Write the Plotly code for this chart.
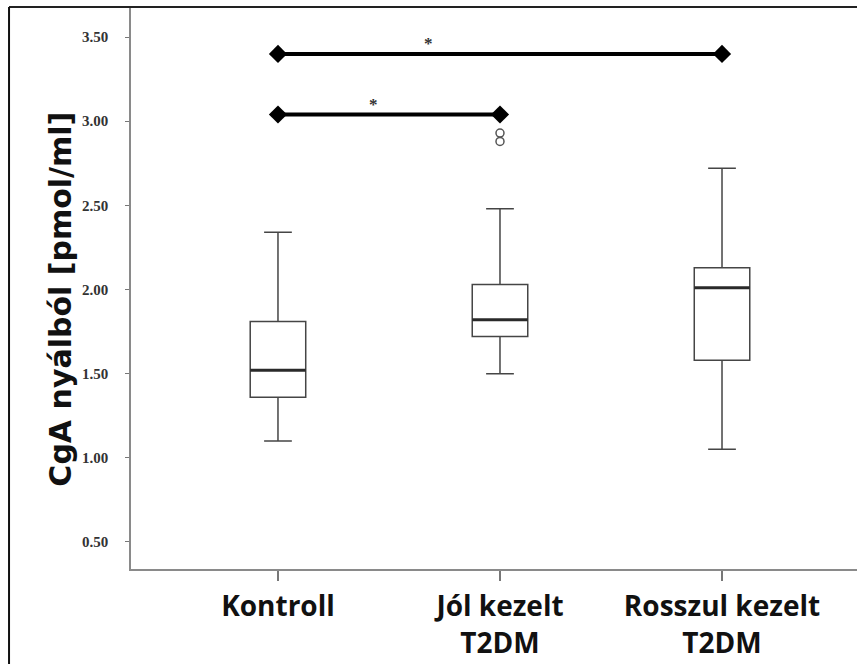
import plotly.graph_objects as go

# Salivary chromogranin A (CgA) per group: box-plot summary statistics
groups = ["Kontroll", "Jól kezelt<br>T2DM", "Rosszul kezelt<br>T2DM"]
lower_whisker = [1.10, 1.50, 1.05]
q1 = [1.36, 1.72, 1.58]
median = [1.52, 1.82, 2.01]
q3 = [1.81, 2.03, 2.13]
upper_whisker = [2.34, 2.48, 2.72]

# Outlying values (group index, value)
outlier_group = [1, 1]
outlier_values = [2.93, 2.88]

# Significant pairwise comparisons
sig_from = [0, 0]
sig_to = [2, 1]
sig_level = [3.40, 3.04]
sig_label = ["*", "*"]

y_ticks = [0.50, 1.00, 1.50, 2.00, 2.50, 3.00, 3.50]

positions = list(range(len(groups)))
BOX_W = 0.25
BOX_LINE = "#454545"

fig = go.Figure()

fig.add_trace(go.Box(
    x=positions,
    q1=q1, median=median, q3=q3,
    lowerfence=lower_whisker, upperfence=upper_whisker,
    width=BOX_W, whiskerwidth=0.5,
    fillcolor="white",
    line=dict(color=BOX_LINE, width=1.5),
    boxpoints=False, showlegend=False, hoverinfo="skip",
))

# heavier median lines
mx, my = [], []
for p, m in zip(positions, median):
    mx += [p - BOX_W / 2, p + BOX_W / 2, None]
    my += [m, m, None]
fig.add_trace(go.Scatter(x=mx, y=my, mode="lines",
                         line=dict(color="#2a2a2a", width=3),
                         showlegend=False, hoverinfo="skip"))

# outliers
fig.add_trace(go.Scatter(
    x=outlier_group, y=outlier_values, mode="markers",
    marker=dict(symbol="circle-open", size=8, color="#555",
                line=dict(width=1.5, color="#555")),
    showlegend=False, hoverinfo="skip"))

# significance brackets
star_frac = [0.34, 0.43]
for a, b, lvl, lab, f in zip(sig_from, sig_to, sig_level, sig_label, star_frac):
    fig.add_trace(go.Scatter(
        x=[a, b], y=[lvl, lvl], mode="lines+markers",
        line=dict(color="black", width=4),
        marker=dict(symbol="diamond", size=14, color="black"),
        showlegend=False, hoverinfo="skip"))
    fig.add_annotation(x=a + f * (b - a), y=lvl, yshift=10, text=lab,
                       showarrow=False,
                       font=dict(family="Liberation Serif", size=17,
                                 color="#333", weight="bold"))

# y-axis title
fig.add_annotation(xref="paper", yref="paper", x=-0.124, y=0.481,
                   text="CgA nyálból [pmol/ml]", textangle=-90,
                   showarrow=False,
                   font=dict(family="DejaVu Sans", size=30, color="#111",
                             weight="bold"))

# outer frame (left and top edges)
fig.add_shape(type="line", xref="paper", yref="paper",
              x0=-0.1680, x1=1.0, y0=1.0018, y1=1.0018,
              line=dict(color="#222", width=2))
fig.add_shape(type="line", xref="paper", yref="paper",
              x0=-0.1680, x1=-0.1680, y0=-0.2, y1=1.0018,
              line=dict(color="#111", width=2))

fig.update_xaxes(
    range=[-0.662, 2.608],
    tickmode="array", tickvals=positions, ticktext=groups,
    showline=True, linecolor="#8a8a8a", linewidth=1.5,
    ticks="outside", ticklen=10, tickcolor="#777", tickwidth=1.5,
    tickfont=dict(family="Open Sans", size=28, color="#111", weight="bold"),
    ticklabelstandoff=2,
    showgrid=False, zeroline=False,
)
fig.update_yaxes(
    range=[0.339, 3.673],
    tickmode="array", tickvals=y_ticks,
    ticktext=[f"{v:.2f}" for v in y_ticks],
    showline=True, linecolor="#8a8a8a", linewidth=1.5,
    ticks="outside", ticklen=4, tickcolor="#777",
    tickfont=dict(family="Liberation Serif", size=15, color="#333",
                  weight="bold"),
    ticklabelstandoff=14,
    showgrid=False, zeroline=False,
)

fig.update_layout(
    width=857, height=664,
    margin=dict(l=131, r=0, t=8, b=95),
    plot_bgcolor="white", paper_bgcolor="white",
    showlegend=False,
)

fig.write_html("out.html")
